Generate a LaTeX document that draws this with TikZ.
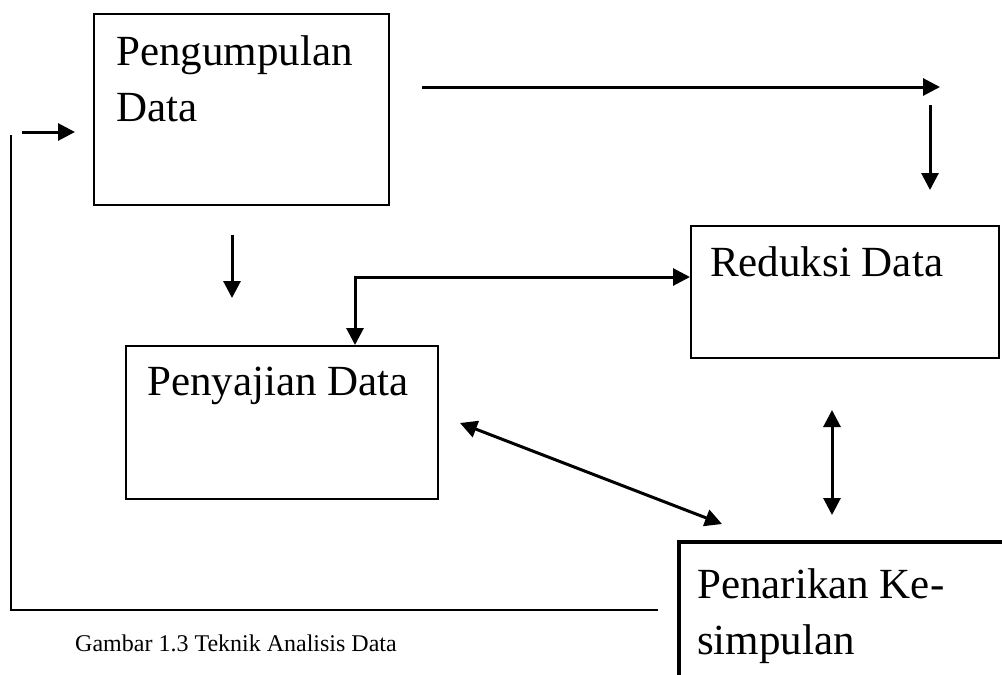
\documentclass[tikz,border=0pt]{standalone}
\usepackage{fontspec}
\setmainfont{Liberation Serif}
\usetikzlibrary{positioning, arrows.meta, calc}

\begin{document}
\begin{tikzpicture}[x=1pt, y=-1pt,
	box/.style={draw, line width=2pt, rectangle, inner sep=0pt, anchor=north west},
	lbl/.style={anchor=north west, inner sep=0pt, align=left, font=\fontsize{43}{56}\selectfont},
	arr/.style={line width=3pt, -{Triangle[length=17pt, width=17pt]}},
	biarr/.style={line width=3pt, {Triangle[length=17pt, width=17pt]}-{Triangle[length=17pt, width=17pt]}}]
	\useasboundingbox (0,0) rectangle (1002,675);
	\node[box, minimum width=295pt, minimum height=191pt] (pengumpulan) at (93,13) {};
	\node[box, minimum width=308pt, minimum height=132pt] (reduksi) at (690,225) {};
	\node[box, minimum width=312pt, minimum height=153pt] (penyajian) at (125,345) {};
	\node[box, line width=4pt, minimum width=340pt, minimum height=160pt] (penarikan) at (677,540) {};
	\node[lbl] (pengumpulanText) at ([xshift=23pt, yshift=-22pt]pengumpulan.north west) {Pengumpulan\\Data};
	\node[lbl] (reduksiText) at ([xshift=20pt, yshift=-21pt]reduksi.north west) {Reduksi Data};
	\node[lbl] (penyajianText) at ([xshift=22pt, yshift=-22pt]penyajian.north west) {Penyajian Data};
	\node[lbl] (penarikanText) at ([xshift=20pt, yshift=-28pt]penarikan.north west) {Penarikan Ke-\\simpulan};
	\node[anchor=base west, inner sep=0pt, font=\fontsize{24}{28}\selectfont] (caption) at (75,651) {Gambar 1.3 Teknik Analisis Data};
	\coordinate (topA) at (422,87);
	\coordinate (topB) at (940,87);
	\coordinate (rightA) at (930,105);
	\coordinate (rightB) at (930,190);
	\coordinate (loopA) at (22,132);
	\coordinate (loopB) at (75,132);
	\coordinate (downA) at (232,235);
	\coordinate (downB) at (232,298);
	\coordinate (diagA) at (460,423);
	\coordinate (diagB) at (722,524);
	\coordinate (vertA) at (832,410);
	\coordinate (vertB) at (832,515);
	\coordinate (backA) at (658,610);
	\coordinate (backB) at (11,135);
	\draw[arr] (topA) -- (topB);
	\draw[arr] (rightA) -- (rightB);
	\draw[arr] (loopA) -- (loopB);
	\draw[arr] (downA) -- (downB);
	\draw[biarr] ([xshift=230pt]penyajian.north west) |- ([yshift=-52pt]reduksi.north west);
	\draw[biarr] (diagA) -- (diagB);
	\draw[biarr] (vertA) -- (vertB);
	\draw[line width=2pt] (backA) -| (backB);
\end{tikzpicture}
\end{document}
